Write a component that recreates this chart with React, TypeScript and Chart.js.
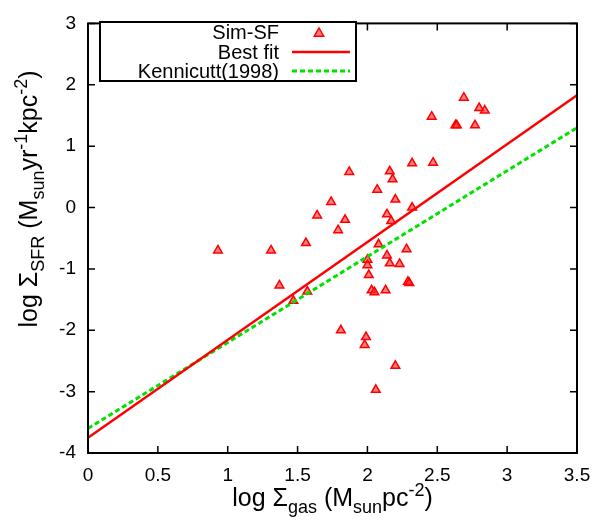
import React, { useEffect, useRef } from "react";
import { Chart, registerables } from "chart.js";
Chart.register(...registerables);

const simGas = [2.69, 2.80, 2.84, 2.46, 2.63, 2.64, 2.77, 1.87, 2.16, 2.18, 2.32, 2.47, 2.07, 2.20, 1.74, 1.84, 1.79, 2.14, 2.17, 2.32, 1.64, 1.56, 0.93, 1.31, 2.08, 2.28, 2.14, 2.00, 2.00, 2.16, 2.23, 2.01, 2.29, 2.30, 2.03, 2.05, 2.13, 1.37, 1.57, 1.47, 1.81, 1.99, 1.98, 2.20, 2.06];
const simSfr = [1.79, 1.62, 1.58, 1.48, 1.34, 1.34, 1.34, 0.58, 0.59, 0.46, 0.72, 0.73, 0.29, 0.13, 0.09, -0.20, -0.37, -0.11, -0.22, 0.00, -0.13, -0.58, -0.70, -0.70, -0.60, -0.68, -0.78, -0.85, -0.94, -0.91, -0.92, -1.10, -1.21, -1.23, -1.35, -1.38, -1.35, -1.27, -1.37, -1.52, -2.00, -2.11, -2.24, -2.58, -2.97];
const fitX = [0, 3.5];
const bestFitY = [-3.75, 1.83];
const kennicuttY = [-3.6, 1.3];
const xTicks = [0, 0.5, 1, 1.5, 2, 2.5, 3, 3.5];
const yTicks = [-4, -3, -2, -1, 0, 1, 2, 3];
const legendLabels = ["Sim-SF", "Best fit", "Kennicutt(1998)"];

const RED = "rgb(255,0,0)";
const GREEN = "rgb(0,225,0)";
const MARKER_FILL = "rgba(255,40,40,0.6)";
const FONT = "'Liberation Sans', Arial, Helvetica, sans-serif";

type Run = { t: string; k: "n" | "sub" | "sup" };

function runsWidth(ctx: CanvasRenderingContext2D, runs: Run[], main: number, small: number) {
  let w = 0;
  for (const r of runs) {
    ctx.font = `${r.k === "n" ? main : small}px ${FONT}`;
    w += ctx.measureText(r.t).width;
  }
  return w;
}

function drawRuns(ctx: CanvasRenderingContext2D, runs: Run[], main: number, small: number, x: number, y: number) {
  let cx = x;
  for (const r of runs) {
    ctx.font = `${r.k === "n" ? main : small}px ${FONT}`;
    const dy = r.k === "sub" ? main * 0.28 : r.k === "sup" ? -main * 0.42 : 0;
    ctx.fillText(r.t, cx, y + dy);
    cx += ctx.measureText(r.t).width;
  }
}

function triangle(ctx: CanvasRenderingContext2D, x: number, y: number, r: number) {
  ctx.beginPath();
  ctx.moveTo(x, y - r);
  ctx.lineTo(x + r * 0.95, y + r * 0.65);
  ctx.lineTo(x - r * 0.95, y + r * 0.65);
  ctx.closePath();
  ctx.fillStyle = MARKER_FILL;
  ctx.fill();
  ctx.strokeStyle = RED;
  ctx.lineWidth = 1.5;
  ctx.stroke();
}

const decorPlugin = {
  id: "decor",
  afterDraw(chart: any) {
    const ctx: CanvasRenderingContext2D = chart.ctx;
    const { left, right, top, bottom } = chart.chartArea;
    const xs = chart.scales.x;
    const ys = chart.scales.y;
    ctx.save();
    ctx.strokeStyle = "#000";
    ctx.lineWidth = 2;
    ctx.strokeRect(left, top, right - left, bottom - top);
    const tl = 7;
    ctx.lineWidth = 1.5;
    ctx.beginPath();
    for (const v of xTicks) {
      const px = xs.getPixelForValue(v);
      ctx.moveTo(px, bottom);
      ctx.lineTo(px, bottom - tl);
      ctx.moveTo(px, top);
      ctx.lineTo(px, top + tl);
    }
    for (const v of yTicks) {
      const py = ys.getPixelForValue(v);
      ctx.moveTo(left, py);
      ctx.lineTo(left + tl, py);
      ctx.moveTo(right, py);
      ctx.lineTo(right - tl, py);
    }
    ctx.stroke();

    // legend
    const lx0 = 100, ly0 = 22, lx1 = 356, ly1 = 81;
    ctx.fillStyle = "#fff";
    ctx.fillRect(lx0, ly0, lx1 - lx0, ly1 - ly0);
    ctx.strokeStyle = "#000";
    ctx.lineWidth = 2;
    ctx.strokeRect(lx0, ly0, lx1 - lx0, ly1 - ly0);
    ctx.fillStyle = "#000";
    ctx.font = `20px ${FONT}`;
    ctx.textAlign = "right";
    ctx.textBaseline = "middle";
    const rowsY = [32, 52, 71];
    legendLabels.forEach((l, i) => ctx.fillText(l, 279, rowsY[i] + 1));
    triangle(ctx, 319, rowsY[0] + 1, 5);
    ctx.strokeStyle = RED;
    ctx.lineWidth = 2.5;
    ctx.setLineDash([]);
    ctx.beginPath();
    ctx.moveTo(292, rowsY[1]);
    ctx.lineTo(350, rowsY[1]);
    ctx.stroke();
    ctx.strokeStyle = GREEN;
    ctx.lineWidth = 3;
    ctx.setLineDash([5, 3]);
    ctx.beginPath();
    ctx.moveTo(292, rowsY[2]);
    ctx.lineTo(350, rowsY[2]);
    ctx.stroke();
    ctx.setLineDash([]);

    // axis titles
    ctx.fillStyle = "#000";
    ctx.textAlign = "left";
    ctx.textBaseline = "alphabetic";
    const main = 25, small = 18;
    const xRuns: Run[] = [
      { t: "log \u03A3", k: "n" },
      { t: "gas", k: "sub" },
      { t: " (M", k: "n" },
      { t: "sun", k: "sub" },
      { t: "pc", k: "n" },
      { t: "-2", k: "sup" },
      { t: ")", k: "n" },
    ];
    const xw = runsWidth(ctx, xRuns, main, small);
    drawRuns(ctx, xRuns, main, small, (left + right) / 2 - xw / 2, 506);
    const yRuns: Run[] = [
      { t: "log \u03A3", k: "n" },
      { t: "SFR", k: "sub" },
      { t: " (M", k: "n" },
      { t: "sun", k: "sub" },
      { t: "yr", k: "n" },
      { t: "-1", k: "sup" },
      { t: "kpc", k: "n" },
      { t: "-2", k: "sup" },
      { t: ")", k: "n" },
    ];
    const yw = runsWidth(ctx, yRuns, main, small);
    ctx.translate(37, 199);
    ctx.rotate(-Math.PI / 2);
    drawRuns(ctx, yRuns, main, small, -yw / 2, 0);
    ctx.restore();
  },
};

export default function App() {
  const ref = useRef<HTMLCanvasElement>(null);
  useEffect(() => {
    const canvas = ref.current!;
    const chart = new Chart(canvas, {
      type: "scatter",
      data: {
        datasets: [
          {
            type: "line",
            label: "Best fit",
            data: fitX.map((x, i) => ({ x, y: bestFitY[i] })),
            borderColor: RED,
            borderWidth: 2.5,
            pointRadius: 0,
            fill: false,
          } as any,
          {
            type: "line",
            label: "Kennicutt(1998)",
            data: fitX.map((x, i) => ({ x, y: kennicuttY[i] })),
            borderColor: GREEN,
            borderWidth: 3,
            borderDash: [5, 3],
            pointRadius: 0,
            fill: false,
          } as any,
          {
            label: "Sim-SF",
            data: simGas.map((x, i) => ({ x, y: simSfr[i] })),
            pointStyle: "triangle",
            pointRadius: 5,
            backgroundColor: MARKER_FILL,
            borderColor: RED,
            borderWidth: 1.5,
          },
        ],
      },
      options: {
        animation: false,
        responsive: false,
        devicePixelRatio: 1,
        layout: { padding: { top: 14, right: 26, left: 0, bottom: 0 } },
        plugins: { legend: { display: false }, tooltip: { enabled: false }, title: { display: false } },
        scales: {
          x: {
            type: "linear",
            min: 0,
            max: 3.5,
            afterBuildTicks: (s: any) => {
              s.ticks = xTicks.map((v) => ({ value: v }));
            },
            afterFit: (s: any) => {
              s.height = 68;
            },
            grid: { display: false, drawTicks: false },
            border: { display: false },
            ticks: {
              padding: 11,
              color: "#000",
              font: { size: 19, family: FONT },
              maxRotation: 0,
              callback: (v: any) => String(v),
            },
          },
          y: {
            type: "linear",
            min: -4,
            max: 3,
            afterBuildTicks: (s: any) => {
              s.ticks = yTicks.map((v) => ({ value: v }));
            },
            afterFit: (s: any) => {
              s.width = 88;
            },
            grid: { display: false, drawTicks: false },
            border: { display: false },
            ticks: {
              padding: 12,
              color: "#000",
              font: { size: 19, family: FONT },
              callback: (v: any) => String(v),
            },
          },
        },
      },
      plugins: [decorPlugin],
    });
    return () => chart.destroy();
  }, []);
  return (
    <div style={{ position: "absolute", left: 0, top: 0, width: 603, height: 521, background: "#fff" }}>
      <canvas ref={ref} width={603} height={521} style={{ display: "block", width: 603, height: 521 }} />
    </div>
  );
}
